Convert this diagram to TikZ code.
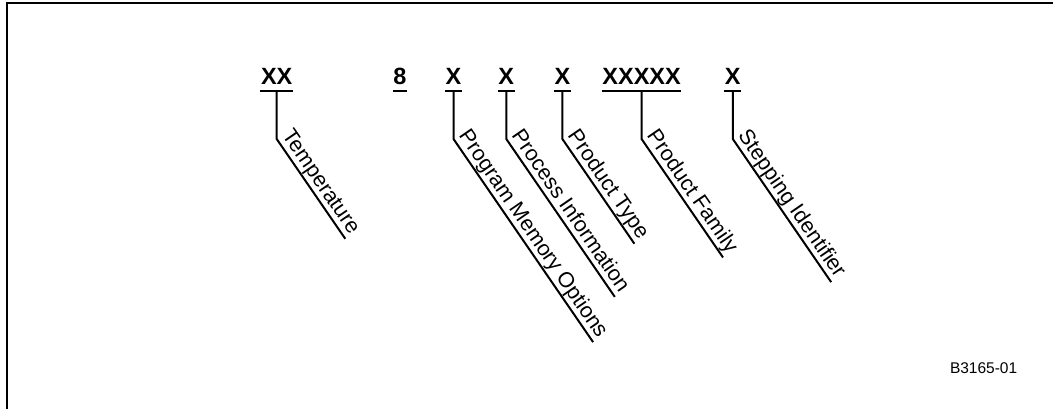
\documentclass[tikz,border=0pt]{standalone}
\usepackage{fontspec}
\newfontfamily\arial{Liberation Sans}
\begin{document}
\begin{tikzpicture}[x=1pt,y=1pt,
  codetxt/.style={font=\arial\bfseries\fontsize{23.5}{28}\selectfont, inner sep=0pt, anchor=base},
  lab/.style={font=\arial\fontsize{21.5}{26}\selectfont, inner xsep=0pt, inner ysep=5.5pt, text depth=0pt, anchor=south west, rotate=-55.5},
  ln/.style={line width=2pt},
  idtxt/.style={font=\arial\fontsize{15.5}{18}\selectfont, inner sep=0pt, anchor=base west}]
\useasboundingbox (0,0) rectangle (1053,409);
% frame
\draw[line width=2pt] (1056,406) -- (7,406) -- (7,-3);
% code characters
\node[codetxt] (c1) at (276.7,324) {XX};
\node[codetxt] (c0) at (400,324) {8};
\node[codetxt] (c2) at (453.5,324) {X};
\node[codetxt] (c3) at (506.3,324) {X};
\node[codetxt] (c4) at (562.4,324) {X};
\node[codetxt] (c5) at (641.6,324) {XXXXX};
\node[codetxt] (c6) at (732.8,324) {X};
% underlines
\foreach \n in {c0,c1,c2,c3,c4,c5,c6}{
  \draw[ln] ([xshift=-0.5pt,yshift=-6pt]\n.base west) -- ([xshift=0.5pt,yshift=-6pt]\n.base east);
}
% bend points
\coordinate (b1) at (276.7,270);
\coordinate (b2) at (453.5,270);
\coordinate (b3) at (506.3,270);
\coordinate (b4) at (562.4,270);
\coordinate (b5) at (641.6,270);
\coordinate (b6) at (732.8,270);
% labels
\node[lab] (l1) at (b1) {Temperature};
\node[lab] (l2) at (b2) {Program Memory Options};
\node[lab] (l3) at (b3) {Process Information};
\node[lab] (l4) at (b4) {Product Type};
\node[lab] (l5) at (b5) {Product Family};
\node[lab] (l6) at (b6) {Stepping Identifier};
% connectors
\foreach \i in {1,...,6}{
  \draw[ln] ([yshift=-6pt]c\i.base) -- (b\i) -- (l\i.south east);
}
\node[idtxt] (id) at (949.8,35.7) {B3165-01};
\end{tikzpicture}
\end{document}
